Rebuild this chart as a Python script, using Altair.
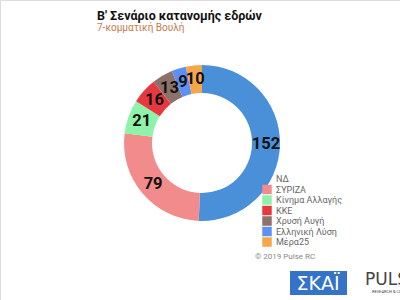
import altair as alt
import pandas as pd

parties = ["ΝΔ", "ΣΥΡΙΖΑ", "Κίνημα Αλλαγής", "ΚΚΕ", "Χρυσή Αυγή", "Ελληνική Λύση", "Μέρα25"]
seats = [152, 79, 21, 16, 13, 9, 10]
colors = ["#4a90d9", "#f28b8b", "#8ef2a8", "#e8383f", "#8c726b", "#5e8ff5", "#f5a64a"]

title_text = "Β' Σενάριο κατανομής εδρών"
subtitle_text = "7-κομματική Βουλή"
copyright_text = "© 2019 Pulse RC"

df = pd.DataFrame({"party": parties, "seats": seats, "order": list(range(len(parties)))})

CX, CY = 202, 143

base = alt.Chart(df).encode(
    theta=alt.Theta("seats:Q", stack=True),
    order=alt.Order("order:Q"),
)

arcs = base.mark_arc(outerRadius=78, innerRadius=50, x=CX, y=CY).encode(
    color=alt.Color(
        "party:N",
        sort=parties,
        scale=alt.Scale(domain=parties, range=colors),
        legend=alt.Legend(
            title=None,
            orient="none",
            legendX=262,
            legendY=174,
            symbolType="square",
            symbolSize=90,
            symbolStrokeWidth=0,
            labelFontSize=9,
            labelFont="Roboto",
            labelColor="#666666",
            rowPadding=0.5,
            labelOffset=4,
            symbolOpacity=alt.ExprRef("datum.value === 'ΝΔ' ? 0 : 1"),
        ),
    )
)

labels = base.mark_text(
    radius=64, x=CX, y=CY, fontSize=16.5, fontWeight="bold", font="Roboto", color="#111111"
).encode(text="seats:Q")

def txt(s, **kw):
    return alt.Chart(pd.DataFrame({"t": [s]})).mark_text(**kw).encode(text="t:N")

title = txt(title_text, x=97, y=20, align="left", baseline="alphabetic", fontSize=12.5,
            fontWeight="bold", font="Roboto", color="#111111")
subtitle = txt(subtitle_text, x=97, y=31, align="left", baseline="alphabetic", fontSize=10,
               font="Roboto", color="#c47a4a")
copyright = txt(copyright_text, x=255, y=259, align="left", baseline="alphabetic", fontSize=8,
                font="Roboto", color="#888888")

logo_box = alt.Chart(pd.DataFrame({"a": [0]})).mark_rect(color="#3473c8").encode(
    x=alt.value(290), x2=alt.value(347), y=alt.value(271), y2=alt.value(295)
)
skai = txt("ΣΚΑΪ", x=318, y=290, align="center", baseline="alphabetic", fontSize=19,
           font="DejaVu Sans", color="white")
pulse = txt("PULSE", x=365, y=285, align="left", baseline="alphabetic", fontSize=17,
            font="DejaVu Sans", color="#444444")
pulse_sub = txt("RESEARCH & COMMUNICATION", x=372, y=293, align="left", baseline="alphabetic",
                fontSize=4, font="Roboto", color="#444444")

chart = alt.layer(arcs, labels, title, subtitle, copyright, logo_box, skai, pulse, pulse_sub).properties(
    width=400, height=300, autosize=alt.AutoSizeParams(type="none"), padding=0
).configure_view(stroke=None).configure(background="white")

chart.save("out.html", embed_options={"renderer": "svg", "actions": False})
